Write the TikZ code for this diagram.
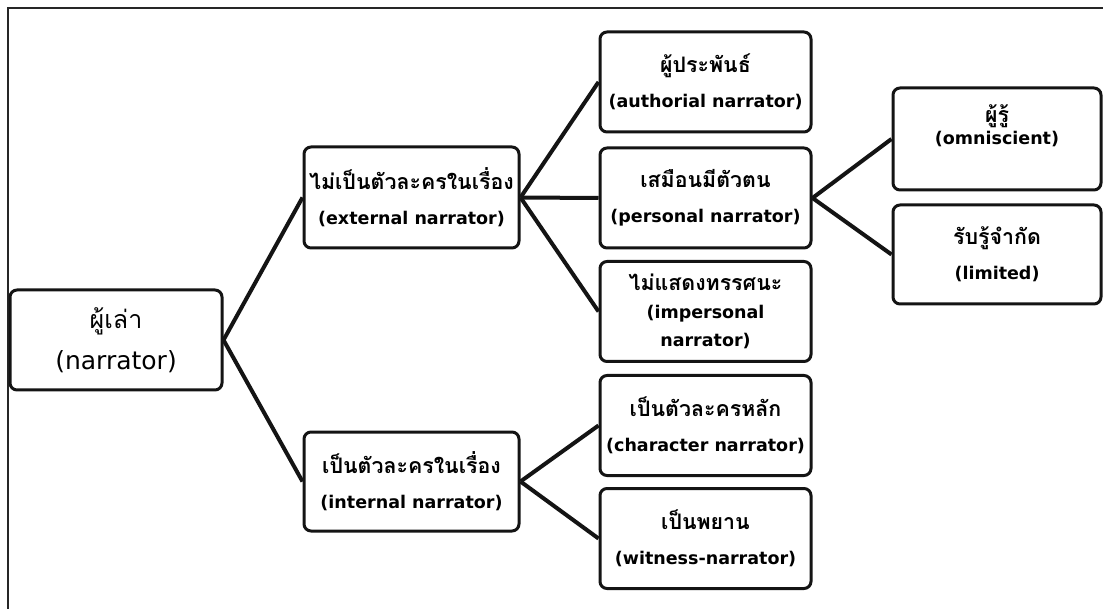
\documentclass[tikz,border=0pt]{standalone}
\usepackage{fontspec}
\setmainfont{DejaVu Sans}
\newfontfamily\thai[Script=Thai,Scale=1.22]{Loma}
\newfontfamily\thaibig[Script=Thai]{Loma}
\tikzset{
  box/.style={draw=black!92, line width=3pt, rounded corners=7pt, align=center, inner sep=0pt, fill=white},
  std/.style={box, minimum width=211pt, minimum height=100pt},
  small/.style={font=\fontsize{17.5}{35}\selectfont\bfseries},
  big/.style={font=\fontsize{25}{41}\selectfont},
  conn/.style={line width=4pt, draw=black!92},
  frame/.style={line width=2pt, draw=black!85}
}
\begin{document}
\begin{tikzpicture}[x=1pt,y=-1pt]
\useasboundingbox[fill=white] (0,0) rectangle (1103,609);
\coordinate (fA) at (8,609);
\coordinate (fB) at (8,8);
\coordinate (fC) at (1103,8);
\draw[frame] (fA) -- (fB) -- (fC);

\node[box, big, minimum width=212pt, minimum height=100pt] (narr) at (116,340) {{\thaibig ผู้เล่า}\\(narrator)};

\node[box, small, minimum width=215pt, minimum height=101pt] (ext) at (411.5,197.5) {{\thai ไม่เป็นตัวละครในเรื่อง}\\(external narrator)};
\node[box, small, minimum width=215pt, minimum height=99pt] (int) at (411.5,481.5) {{\thai เป็นตัวละครในเรื่อง}\\(internal narrator)};

\node[std, small] (auth) at (705.5,82) {{\thai ผู้ประพันธ์}\\(authorial narrator)};
\node[std, small] (pers) at (705.5,198) {{\thai เสมือนมีตัวตน}\\(personal narrator)};
\node[std, small, font=\fontsize{17.5}{28}\selectfont\bfseries] (imp) at (705.5,311.5) {{\thai ไม่แสดงทรรศนะ}\\(impersonal\\narrator)};
\node[std, small] (char) at (705.5,425.5) {{\thai เป็นตัวละครหลัก}\\(character narrator)};
\node[std, small] (wit) at (705.5,538.5) {{\thai เป็นพยาน}\\(witness-narrator)};

\node[box, minimum width=208pt, minimum height=102pt] (omni) at (997,139) {};
\node[align=center, inner sep=0pt, font=\fontsize{17.5}{22}\selectfont\bfseries] (omnit) at (997,126) {{\thai ผู้รู้}\\(omniscient)};
\node[box, small, minimum width=208pt, minimum height=99pt] (lim) at (997,254.5) {{\thai รับรู้จำกัด}\\(limited)};

\draw[conn] (narr.east) -- (ext.west);
\draw[conn] (narr.east) -- (int.west);
\draw[conn] (ext.east) -- (auth.west);
\draw[conn] (ext.east) -- (pers.west);
\draw[conn] (ext.east) -- (imp.west);
\draw[conn] (int.east) -- (char.west);
\draw[conn] (int.east) -- (wit.west);
\draw[conn] (pers.east) -- (omni.west);
\draw[conn] (pers.east) -- (lim.west);
\end{tikzpicture}
\end{document}
